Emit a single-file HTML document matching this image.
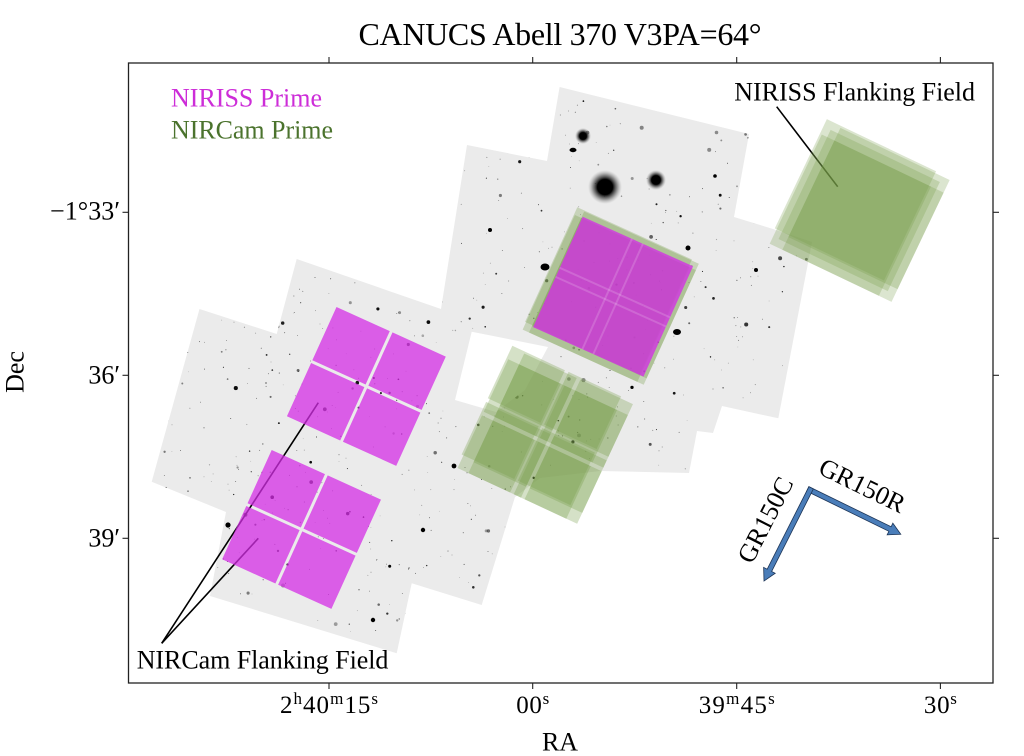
<!DOCTYPE html>
<html>
<head>
<meta charset="utf-8">
<style>
html,body{margin:0;padding:0;background:#fff;}
body{width:1024px;height:756px;overflow:hidden;}
svg{display:block;font-family:"Liberation Serif","DejaVu Serif",serif;}
</style>
</head>
<body>
<svg width="1024" height="756" viewBox="0 0 1024 756">
<defs>
  <clipPath id="mclip">
    <polygon points="199.5,309 276.7,334 296.7,259 441,309 467,145 547,161 559.6,87 749,134 734,217 773,229 812,242 778.3,418.3 722,406 713,433 697,431 689,473 600,471 540,478 515,497 481.7,605 411.7,583.3 396.7,653.3 210,596 226,512 151.7,481.7"/>
  </clipPath>
  <radialGradient id="halo">
    <stop offset="0" stop-color="#000"/>
    <stop offset="0.45" stop-color="#000"/>
    <stop offset="0.7" stop-color="#444" stop-opacity="0.6"/>
    <stop offset="1" stop-color="#999" stop-opacity="0"/>
  </radialGradient>
</defs>
<rect width="1024" height="756" fill="#fff"/>

<!-- mosaic image -->
<polygon fill="#ebebeb" points="199.5,309 276.7,334 296.7,259 441,309 467,145 547,161 559.6,87 749,134 734,217 773,229 812,242 778.3,418.3 722,406 713,433 697,431 689,473 600,471 540,478 515,497 481.7,605 411.7,583.3 396.7,653.3 210,596 226,512 151.7,481.7"/>
<g id="stars" clip-path="url(#mclip)"></g>
<g clip-path="url(#mclip)" fill="#000">
  <circle cx="605" cy="187" r="17" fill="url(#halo)"/>
  <circle cx="656" cy="180" r="10" fill="url(#halo)"/>
  <circle cx="583" cy="136" r="8" fill="url(#halo)"/>
  <ellipse cx="573" cy="150" rx="3.5" ry="2.2"/>
  <ellipse cx="545" cy="267" rx="4.5" ry="3.5"/>
  <ellipse cx="677" cy="332" rx="4" ry="3"/>
  <circle cx="688" cy="248" r="2.5"/>
  <circle cx="228" cy="525" r="2.6"/>
  <circle cx="373" cy="620" r="2.2"/>
  <circle cx="423" cy="530" r="2.2"/>
  <circle cx="454" cy="466" r="2.4"/>
  <circle cx="756" cy="270" r="2"/>
  <circle cx="611" cy="487" r="2"/>
  <circle cx="490" cy="230" r="2"/>
  <circle cx="715" cy="176" r="1.8"/>
</g>
<!-- notch -->
<polygon fill="#fff" points="471.7,331.7 548,347 525,390 496,412 455,400"/>

<!-- leader lines (under footprints) -->
<g stroke="#000" stroke-width="1.6" fill="none">
  <line x1="776.7" y1="106.7" x2="837.7" y2="186.7"/>
  <line x1="161.7" y1="643.3" x2="318.3" y2="402.7"/>
  <line x1="161.7" y1="643.3" x2="258.3" y2="538.3"/>
</g>

<!-- NIRISS flanking field (green layered) -->
<g transform="translate(859.2,210.5) rotate(25.5)" fill="#759c47" fill-opacity="0.26">
  <rect x="-68.5" y="-68.5" width="121" height="121"/>
  <rect x="-52.5" y="-66.5" width="121" height="121"/>
  <rect x="-66.5" y="-52.5" width="121" height="121"/>
  <rect x="-52.5" y="-52.5" width="121" height="121"/>
  <rect x="-60.5" y="-60.5" width="121" height="121"/>
</g>

<!-- green under central magenta -->
<g transform="translate(610.5,296) rotate(24.5)" fill="#759c47" fill-opacity="0.3">
  <rect x="-67" y="-67" width="126" height="126"/>
  <rect x="-59" y="-66" width="126" height="126"/>
  <rect x="-66" y="-59" width="126" height="126"/>
  <rect x="-59" y="-59" width="126" height="126"/>
</g>

<!-- lower NIRCam prime green (layered 2x2) -->
<g transform="translate(544.75,434.75) rotate(25)" fill="#759c47" fill-opacity="0.3">
  <g transform="translate(-7,-7)"><rect x="-60" y="-60" width="58" height="58"/><rect x="2" y="-60" width="58" height="58"/><rect x="-60" y="2" width="58" height="58"/><rect x="2" y="2" width="58" height="58"/></g>
  <g transform="translate(7,-5)"><rect x="-60" y="-60" width="58" height="58"/><rect x="2" y="-60" width="58" height="58"/><rect x="-60" y="2" width="58" height="58"/><rect x="2" y="2" width="58" height="58"/></g>
  <g transform="translate(-5,7)"><rect x="-60" y="-60" width="58" height="58"/><rect x="2" y="-60" width="58" height="58"/><rect x="-60" y="2" width="58" height="58"/><rect x="2" y="2" width="58" height="58"/></g>
  <g transform="translate(7,7)"><rect x="-60" y="-60" width="58" height="58"/><rect x="2" y="-60" width="58" height="58"/><rect x="-60" y="2" width="58" height="58"/><rect x="2" y="2" width="58" height="58"/></g>
</g>

<!-- central magenta -->
<g transform="translate(582.7,216.7) rotate(24.2)">
  <rect x="0" y="0" width="121" height="121" fill="#d42ee6" fill-opacity="0.78"/>
  <g stroke="#fff" stroke-opacity="0.16" stroke-width="2">
    <line x1="54" y1="0" x2="54" y2="121"/>
    <line x1="66" y1="0" x2="66" y2="121"/>
    <line x1="0" y1="56" x2="121" y2="56"/>
    <line x1="0" y1="66" x2="121" y2="66"/>
  </g>
</g>

<!-- flanking magenta 2x2 -->
<g transform="translate(336.5,307) rotate(24.4)" fill="#d42ee6" fill-opacity="0.75">
  <rect x="0" y="0" width="58.5" height="58.5"/><rect x="61.5" y="0" width="58.5" height="58.5"/>
  <rect x="0" y="61.5" width="58.5" height="58.5"/><rect x="61.5" y="61.5" width="58.5" height="58.5"/>
</g>
<g transform="translate(271.7,450) rotate(24.4)" fill="#d42ee6" fill-opacity="0.75">
  <rect x="0" y="0" width="58.5" height="58.5"/><rect x="61.5" y="0" width="58.5" height="58.5"/>
  <rect x="0" y="61.5" width="58.5" height="58.5"/><rect x="61.5" y="61.5" width="58.5" height="58.5"/>
</g>

<!-- arrows -->
<g fill="#4a7db9" stroke="#1d3557" stroke-width="0.8">
  <polygon transform="translate(810,490) rotate(26)" points="-2.5,-2.5 89,-2.5 89,-6.5 101,0 89,6.5 89,2.5 -2.5,2.5"/>
  <polygon transform="translate(810,490) rotate(116.8)" points="-2.5,-2.5 90,-2.5 90,-6.5 102,0 90,6.5 90,2.5 -2.5,2.5"/>
</g>
<text transform="translate(817,473) rotate(26)" font-size="26" fill="#000">GR150R</text>
<text transform="translate(752,565) rotate(-63)" font-size="26" fill="#000">GR150C</text>

<!-- labels -->
<text x="171" y="106.7" font-size="26" fill="#cd2dd8" textLength="151">NIRISS Prime</text>
<text x="171" y="138.3" font-size="26" fill="#4b732d" textLength="162">NIRCam Prime</text>
<text x="734.3" y="100.7" font-size="26" fill="#000" textLength="240.7">NIRISS Flanking Field</text>
<text x="136.7" y="668.3" font-size="26" fill="#000" textLength="251.7">NIRCam Flanking Field</text>

<!-- frame -->
<rect x="128.5" y="63" width="864.5" height="620" fill="none" stroke="#222" stroke-width="1.3"/>
<g stroke="#222" stroke-width="1.1">
  <line x1="329" y1="57" x2="329" y2="63"/><line x1="532.7" y1="57" x2="532.7" y2="63"/>
  <line x1="736.7" y1="57" x2="736.7" y2="63"/><line x1="940.4" y1="57" x2="940.4" y2="63"/>
  <line x1="329" y1="683" x2="329" y2="689"/><line x1="532.7" y1="683" x2="532.7" y2="689"/>
  <line x1="736.7" y1="683" x2="736.7" y2="689"/><line x1="940.4" y1="683" x2="940.4" y2="689"/>
  <line x1="122.5" y1="212.3" x2="128.5" y2="212.3"/><line x1="122.5" y1="375.3" x2="128.5" y2="375.3"/>
  <line x1="122.5" y1="538.3" x2="128.5" y2="538.3"/>
  <line x1="993" y1="212.3" x2="999" y2="212.3"/><line x1="993" y1="375.3" x2="999" y2="375.3"/>
  <line x1="993" y1="538.3" x2="999" y2="538.3"/>
</g>

<!-- title -->
<text x="560" y="45" font-size="32" text-anchor="middle" textLength="403" fill="#000">CANUCS Abell 370 V3PA=64°</text>

<!-- x tick labels -->
<g font-size="25" fill="#000" text-anchor="middle">
  <text x="329" y="713" textLength="98">2<tspan dy="-9" font-size="17">h</tspan><tspan dy="9">40</tspan><tspan dy="-9" font-size="17">m</tspan><tspan dy="9">15</tspan><tspan dy="-9" font-size="17">s</tspan></text>
  <text x="532.7" y="713" textLength="33">00<tspan dy="-9" font-size="17">s</tspan></text>
  <text x="736.7" y="713" textLength="76">39<tspan dy="-9" font-size="17">m</tspan><tspan dy="9">45</tspan><tspan dy="-9" font-size="17">s</tspan></text>
  <text x="940.4" y="713" textLength="33">30<tspan dy="-9" font-size="17">s</tspan></text>
</g>
<!-- y tick labels -->
<g font-size="26" fill="#000" text-anchor="end">
  <text x="120" y="219.5" textLength="70">−1°33′</text>
  <text x="120" y="383.5">36′</text>
  <text x="120" y="546.5">39′</text>
</g>
<!-- axis labels -->
<text x="560" y="750.5" font-size="26" text-anchor="middle" fill="#000">RA</text>
<text transform="translate(23.5,372) rotate(-90)" font-size="26" text-anchor="middle" fill="#000">Dec</text>
</svg>
<script>
(function(){
  var a=987654321;
  function r(){a|=0;a=a+0x6D2B79F5|0;var t=Math.imul(a^a>>>15,1|a);t=t+Math.imul(t^t>>>7,61|t)^t;return((t^t>>>14)>>>0)/4294967296;}
  var h='';
  for(var i=0;i<1150;i++){
    var x=150+r()*670,y=85+r()*575;
    var q=r();var rad=0.4+1.7*Math.pow(q,6);
    var op=0.25+0.75*r();
    h+='<circle cx="'+x.toFixed(1)+'" cy="'+y.toFixed(1)+'" r="'+rad.toFixed(2)+'" fill="#000" fill-opacity="'+op.toFixed(2)+'"/>';
  }
  var g=document.getElementById('stars');
  if(g){g.innerHTML=h;}
})();
</script>
</body>
</html>
